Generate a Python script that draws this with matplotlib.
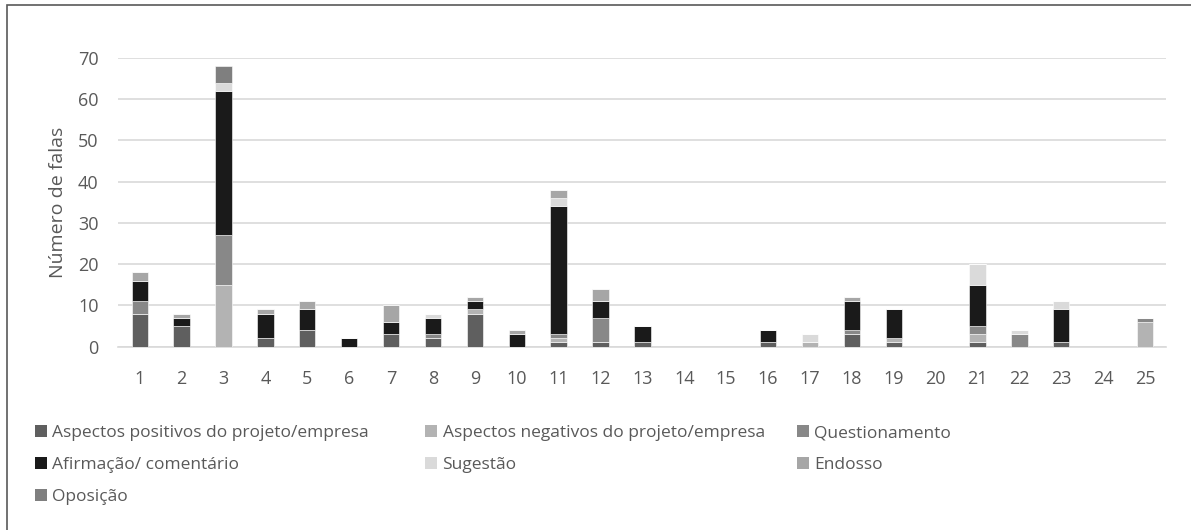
import numpy as np
import matplotlib.pyplot as plt
from matplotlib.patches import Rectangle, Patch

plt.rcParams['font.family'] = ['Open Sans', 'DejaVu Sans']

categorias = [str(i) for i in range(1, 26)]
positivos = [8, 5, 0, 2, 4, 0, 3, 2, 8, 0, 1, 1, 1, 0, 0, 1, 0, 3, 1, 0, 1, 0, 1, 0, 0]
negativos = [0, 0, 15, 0, 0, 0, 0, 0, 1, 0, 1, 0, 0, 0, 0, 0, 1, 0, 1, 0, 2, 0, 0, 0, 6]
questionamento = [3, 0, 12, 0, 0, 0, 0, 1, 0, 0, 1, 6, 0, 0, 0, 0, 0, 1, 0, 0, 2, 3, 0, 0, 1]
afirmacao = [5, 2, 35, 6, 5, 2, 3, 4, 2, 3, 31, 4, 4, 0, 0, 3, 0, 7, 7, 0, 10, 0, 8, 0, 0]
sugestao = [0, 0, 2, 0, 0, 0, 0, 1, 0, 0, 2, 0, 0, 0, 0, 0, 2, 0, 0, 0, 5, 1, 2, 0, 0]
endosso = [2, 1, 0, 1, 2, 0, 4, 0, 1, 1, 2, 3, 0, 0, 0, 0, 0, 1, 0, 0, 0, 0, 0, 0, 0]
oposicao = [0, 0, 4, 0, 0, 0, 0, 0, 0, 0, 0, 0, 0, 0, 0, 0, 0, 0, 0, 0, 0, 0, 0, 0, 0]

series = [
    ('Aspectos positivos do projeto/empresa', positivos, '#5f5f5f'),
    ('Aspectos negativos do projeto/empresa', negativos, '#b3b3b3'),
    ('Questionamento', questionamento, '#888888'),
    ('Afirmação/ comentário', afirmacao, '#1a1a1a'),
    ('Sugestão', sugestao, '#dadada'),
    ('Endosso', endosso, '#a6a6a6'),
    ('Oposição', oposicao, '#7f7f7f'),
]

fig = plt.figure(figsize=(11.91, 5.30), dpi=100)
ax = fig.add_axes([0.099, 0.346, 0.880, 0.545])

x = np.arange(1, len(categorias) + 1)
base = np.zeros(len(categorias))
for nome, vals, cor in series:
    vals = np.array(vals, dtype=float)
    ax.bar(x, vals, 0.39, bottom=base, color=cor, edgecolor='white', linewidth=0.4, zorder=3)
    base += vals

ax.set_xlim(0.48, 25.5)
ax.set_ylim(0, 70)
ax.set_yticks(range(0, 71, 10))
ax.set_xticks(x)
ax.set_xticklabels(categorias)
ax.yaxis.grid(True, color='#d9d9d9', linewidth=1.2, zorder=0)
ax.set_axisbelow(True)
for s in ['top', 'right', 'left']:
    ax.spines[s].set_visible(False)
ax.spines['bottom'].set_color('#d9d9d9')
ax.spines['bottom'].set_linewidth(1.2)
ax.tick_params(axis='both', length=0, labelsize=13, colors='#595959')
ax.tick_params(axis='x', pad=17)
ax.tick_params(axis='y', pad=14)
ax.set_ylabel('Número de falas', fontsize=14, color='#595959', labelpad=8)

# legenda em três colunas, preenchida por linhas como no original
colunas = [[0, 3, 6], [1, 4], [2, 5]]
xs_col = [0.0294, 0.357, 0.669]
for idx, x0 in zip(colunas, xs_col):
    hs = [Patch(facecolor=series[i][2], edgecolor='none') for i in idx]
    ls = [series[i][0] for i in idx]
    fig.legend(hs, ls, loc='upper left', bbox_to_anchor=(x0, 0.198), ncol=1,
               frameon=False, fontsize=12.5, handlelength=0.7, handleheight=0.7,
               handletextpad=0.3, labelspacing=0.9, borderpad=0,
               borderaxespad=0, labelcolor='#595959')

fig.patches.append(Rectangle((0.006, -0.05), 1.2, 1.04, transform=fig.transFigure,
                             fill=False, edgecolor='#595959', linewidth=1.2))

plt.savefig('out.png', dpi=100)
